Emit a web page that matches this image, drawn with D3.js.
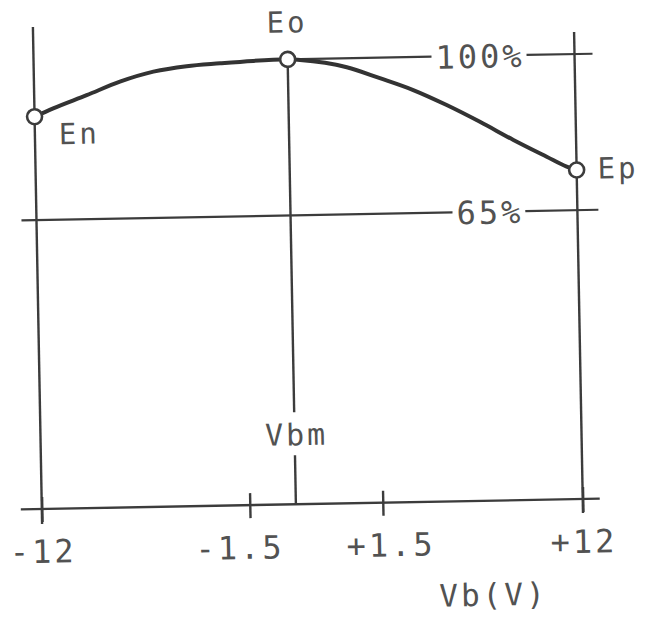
<!DOCTYPE html>
<html>
<head>
<meta charset="utf-8">
<script src="https://cdn.jsdelivr.net/npm/d3@7/dist/d3.min.js"></script>
<style>
  html, body { margin: 0; padding: 0; background: #fff; }
  svg { display: block; }
  text { font-family: "DejaVu Sans Mono", "Liberation Mono", monospace; fill: #525252; }
</style>
</head>
<body>
<div id="chart"></div>
<script>
// ---- data ----
const tickValues = [-12, -1.5, 1.5, 12];
const tickLabels = ["-12", "-1.5", "+1.5", "+12"];
const curveV = [-12, -11.05, -9.35, -7.66, -5.96, -4.28, -2.59, -1.24, -0.46, -0.18, 0.87, 1.76, 3.5, 5.24, 6.97, 8.71, 10.44, 11.48, 12];
const curveE = [88.2, 90.0, 92.8, 95.7, 97.8, 98.9, 99.4, 99.8, 100, 99.8, 98.0, 95.4, 92.6, 89.1, 85.2, 81.0, 77.1, 74.8, 74.0];
const pointLabels = ["En", "Eo", "Ep"];
const pointV = [-12, -0.46, 12];
const pointE = [88.2, 100, 74.0];
const refLevels = [100, 65];
const refLabels = ["100%", "65%"];
const vbmValue = -0.46;
const vbmLabel = "Vbm";
const xTitle = "Vb(V)";

// ---- layout ----
const W = 646, H = 620;
const ink = "#3c3c3c";

const x = d3.scaleLinear().domain(tickValues).range([38, 246, 379, 579]);
const y = d3.scaleLinear().domain([0, 100]).range([505, 59]);
const axisY = 504;

const svg = d3.select("#chart").append("svg").attr("width", W).attr("height", H);
const g = svg.append("g").attr("transform", "rotate(-1.06,310,300)");

// x axis baseline (extends past the end ticks)
g.append("line")
  .attr("x1", x(-12) - 21).attr("x2", x(12) + 17)
  .attr("y1", axisY).attr("y2", axisY)
  .attr("stroke", ink).attr("stroke-width", 2.4);

// ticks + labels through d3 axis
const axis = d3.axisBottom(x).tickValues(tickValues)
  .tickFormat((d, i) => tickLabels[i]).tickSizeInner(12).tickSizeOuter(0).tickPadding(19);
const ax = g.append("g").attr("transform", `translate(0,${axisY})`).call(axis);
ax.select(".domain").remove();
ax.selectAll(".tick line").attr("y1", -12).attr("y2", 13).attr("stroke", ink).attr("stroke-width", 2.4);
ax.selectAll(".tick text")
  .attr("font-size", 32).attr("letter-spacing", 3)
  .attr("fill", "#525252")
  .style("font-family", "'DejaVu Sans Mono', monospace")
  .attr("dx", (d) => d === -1.5 ? -11 : (d === 1.5 ? 7 : 0));

// vertical end lines
g.append("line").attr("x1", x(-12)).attr("x2", x(-12)).attr("y1", 22).attr("y2", axisY + 15)
  .attr("stroke", ink).attr("stroke-width", 2.4);
g.append("line").attr("x1", x(12)).attr("x2", x(12)).attr("y1", 37).attr("y2", axisY + 14)
  .attr("stroke", ink).attr("stroke-width", 2.4);

// Vbm line with label gap
g.append("line").attr("x1", x(vbmValue)).attr("x2", x(vbmValue)).attr("y1", y(100)).attr("y2", 412)
  .attr("stroke", ink).attr("stroke-width", 2.4);
g.append("line").attr("x1", x(vbmValue)).attr("x2", x(vbmValue)).attr("y1", 455).attr("y2", axisY)
  .attr("stroke", ink).attr("stroke-width", 2.4);
g.append("text").attr("x", x(vbmValue) + 2).attr("y", 445)
  .attr("text-anchor", "middle").attr("font-size", 30).attr("letter-spacing", 3).text(vbmLabel);

// reference level lines with labels
const refStart = [x(vbmValue), x(-12) - 15];
const labelCx = [483, 490];
refLevels.forEach((lv, i) => {
  const yy = y(lv);
  const lab = g.append("text").attr("x", labelCx[i] + 1.5).attr("y", yy + 12)
    .attr("text-anchor", "middle").attr("font-size", 32).attr("letter-spacing", 3).text(refLabels[i]);
  const bb = lab.node().getBBox();
  g.append("line").attr("x1", refStart[i]).attr("x2", bb.x - 4).attr("y1", yy).attr("y2", yy)
    .attr("stroke", ink).attr("stroke-width", 2.2);
  g.append("line").attr("x1", bb.x + bb.width + 2).attr("x2", x(12) + 18 + i * 3).attr("y1", yy).attr("y2", yy)
    .attr("stroke", ink).attr("stroke-width", 2.2);
});

// curve
const line = d3.line().x((d) => x(d[0])).y((d) => y(d[1])).curve(d3.curveMonotoneX);
g.append("path").datum(curveV.map((v, i) => [v, curveE[i]]))
  .attr("d", line).attr("fill", "none").attr("stroke", "#333").attr("stroke-width", 4)
  .attr("stroke-linejoin", "round").attr("stroke-linecap", "round");

// points
pointV.forEach((v, i) => {
  g.append("circle").attr("cx", x(v)).attr("cy", y(pointE[i])).attr("r", 7.5)
    .attr("fill", "#fff").attr("stroke", ink).attr("stroke-width", 2.6);
});
// point labels
const pl = [
  { dx: 24, dy: 28, anchor: "start" },
  { dx: 0, dy: -27, anchor: "middle" },
  { dx: 21, dy: 9, anchor: "start" }
];
pointLabels.forEach((t, i) => {
  g.append("text").attr("x", x(pointV[i]) + pl[i].dx).attr("y", y(pointE[i]) + pl[i].dy)
    .attr("text-anchor", pl[i].anchor).attr("font-size", 29).attr("letter-spacing", 3).text(t);
});

// x title
g.append("text").attr("x", 488).attr("y", 609).attr("text-anchor", "middle")
  .attr("font-size", 31).attr("letter-spacing", 3).text(xTitle);
</script>
</body>
</html>
